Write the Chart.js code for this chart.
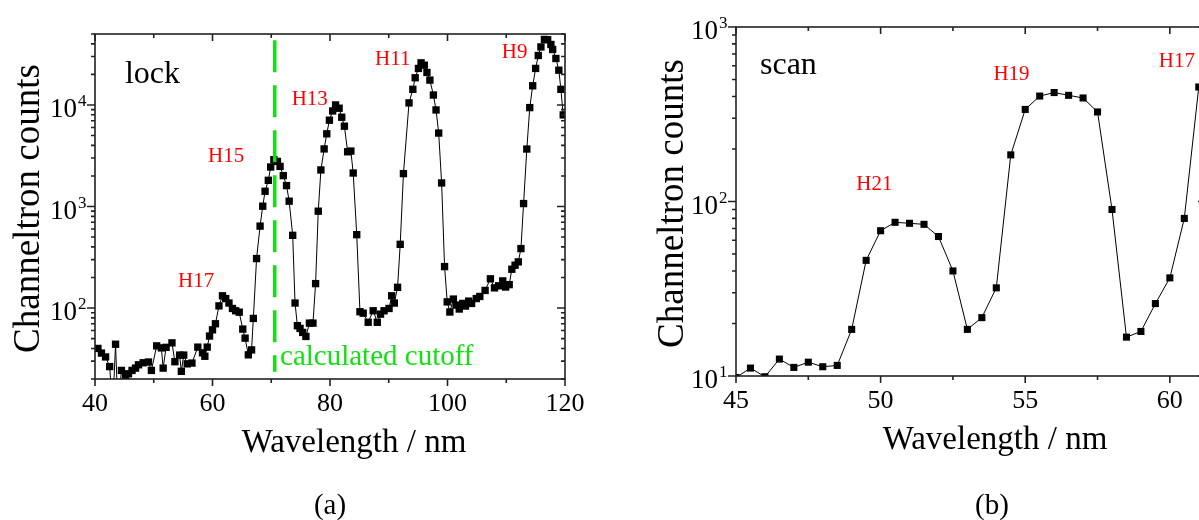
<!DOCTYPE html>
<html>
<head>
<meta charset="utf-8">
<script src="https://cdn.jsdelivr.net/npm/chart.js@4/dist/chart.umd.min.js"></script>
<style>
  html, body { margin: 0; padding: 0; background: #fff; }
  body { width: 1199px; height: 520px; overflow: hidden; position: relative; }
  canvas { position: absolute; top: 0; }
  #lockChart { left: 0; }
  #scanChart { left: 620px; }
</style>
</head>
<body>
<canvas id="lockChart" width="610" height="520"></canvas>
<canvas id="scanChart" width="640" height="520"></canvas>
<script>
// (a) lock
const lockWavelength = [40.5, 41.1, 41.8, 42.5, 43.0, 43.5, 43.9, 44.5, 45.2, 45.7,
    46.3, 46.9, 47.4, 48.2, 49.1, 49.6, 50.5, 51.3, 51.6, 52.1,
    53.1, 53.6, 54.4, 54.7, 55.1, 55.7, 56.5, 57.5, 58.3, 58.7,
    59.1, 59.5, 60.0, 60.5, 61.1, 61.7, 62.25, 62.8, 63.4, 63.95,
    64.55, 65.15, 65.55, 66.1, 66.65, 66.95, 67.5, 68.1, 68.55, 68.95,
    69.5, 69.9, 70.45, 71.05, 71.5, 72.05, 72.6, 73.05, 73.65, 74.05,
    74.45, 74.9, 75.35, 75.9, 76.5, 77.1, 77.55, 78.0, 78.45, 79.0,
    79.45, 79.9, 80.45, 80.95, 81.55, 82.0, 82.45, 83.0, 83.55, 83.95,
    84.55, 85.1, 85.65, 86.5, 87.35, 88.05, 88.6, 89.2, 90.05, 90.5,
    90.95, 91.5, 91.95, 92.5, 93.45, 94.1, 94.5, 95.05, 95.5, 96.05,
    96.5, 97.0, 97.6, 98.05, 98.5, 99.0, 99.5, 99.95, 100.4, 101.0,
    101.45, 102.0, 102.6, 103.05, 103.6, 104.1, 104.9, 105.5, 106.4, 107.3,
    108.0, 108.7, 109.4, 109.9, 110.5, 110.95, 111.5, 112.05, 112.5, 112.95,
    113.5, 114.0, 114.5, 115.0, 115.45, 115.9, 116.5, 117.05, 117.6, 117.9,
    118.45, 118.95, 119.3, 119.7];
const lockCounts = [40, 36, 33, 26.5, 10, 44, 10, 24.3, 21.7, 22.5,
    24.3, 25.6, 27.6, 28.9, 29.4, 24.3, 42.4, 40.5, 25.6, 41,
    45.4, 29.6, 34.4, 23.8, 34.4, 28.2, 28.7, 41.2, 36.2, 33.5,
    41.2, 53, 61, 70, 105, 132, 124, 112, 99, 94,
    91, 62, 50.5, 34.6, 38.7, 79, 307, 641, 1007, 1413,
    1811, 2449, 2890, 2780, 2483, 2014, 1607, 1128, 520, 112,
    67, 63, 57.5, 52.5, 71, 71, 174, 899, 2291, 3690,
    5200, 7080, 8730, 10000, 9290, 7570, 6180, 3460, 3516, 2137,
    528, 92, 89, 72.4, 94, 72.4, 87, 94, 99, 132,
    112, 160, 424, 2108, 10480, 14260, 18530, 22900, 26000, 24660,
    20900, 17580, 12530, 8930, 5290, 1706, 256, 115, 91.4, 122.5,
    107, 97.8, 111, 104.6, 117, 111, 124, 130, 149, 194,
    158, 165.5, 185, 161, 170, 241, 264, 285, 385, 1069,
    3680, 9420, 15450, 22900, 30700, 37300, 44200, 43900, 39400, 35200,
    28700, 22000, 14250, 7980];
const cutoffWavelength = 70.6;
const cutoffCounts = [43400, 23.6];

// (b) scan
const scanWavelength = [45.0, 45.5, 46.0, 46.5, 47.0, 47.5, 48.0, 48.5, 49.0, 49.5,
    50.0, 50.5, 51.0, 51.5, 52.0, 52.5, 53.0, 53.5, 54.0, 54.5,
    55.0, 55.5, 56.0, 56.5, 57.0, 57.5, 58.0, 58.5, 59.0, 59.5,
    60.0, 60.5, 61.0];
const scanCounts = [9.8, 11.1, 9.9, 12.5, 11.2, 12.0, 11.3, 11.5, 18.5, 46,
    68, 76, 75, 74, 63, 40, 18.5, 21.6, 32, 185,
    337, 402, 421, 406, 392, 326, 90, 16.7, 18, 26,
    36.5, 80, 453];

// labels: text, anchor (wavelength, counts) = left/baseline
const lockNotes = [
    { text: 'lock', x: 45.1, y: 16440, color: '#000', size: 32 },
    { text: 'H17', x: 54.13, y: 160, color: '#ff0000', size: 21 },
    { text: 'H15', x: 59.23, y: 2760, color: '#ff0000', size: 21 },
    { text: 'H13', x: 73.48, y: 10000, color: '#ff0000', size: 21 },
    { text: 'H11', x: 87.66, y: 24660, color: '#ff0000', size: 21 },
    { text: 'H9', x: 109.23, y: 28900, color: '#ff0000', size: 21 },
    { text: 'calculated cutoff', x: 71.49, y: 27.6, color: '#11e011', size: 29 }
];
const scanNotes = [
    { text: 'scan', x: 45.83, y: 538, color: '#000', size: 32 },
    { text: 'H21', x: 49.16, y: 116, color: '#ff0000', size: 21 },
    { text: 'H19', x: 53.9, y: 497, color: '#ff0000', size: 21 },
    { text: 'H17', x: 59.62, y: 592, color: '#ff0000', size: 21 }
];

Chart.defaults.font.family = '"Liberation Serif", "Times New Roman", serif';
Chart.defaults.color = '#000';

const serif = '"Liberation Serif", "Times New Roman", serif';

function framePlugin(cfg) {
    return {
        id: 'frame',
        afterDraw(chart) {
            const { ctx, chartArea: a, scales: { x, y } } = chart;
            ctx.save();
            ctx.strokeStyle = '#222';
            ctx.lineWidth = 1.6;
            ctx.strokeRect(a.left, a.top, a.right - a.left, a.bottom - a.top);

            ctx.beginPath();
            for (let v = x.min; v <= x.max + 1e-9; v += cfg.xMinor) {
                const px = x.getPixelForValue(v);
                const k = (v - x.min) / cfg.xMajor;
                const len = Math.abs(k - Math.round(k)) < 1e-6 ? 7 : 4;
                ctx.moveTo(px, a.bottom); ctx.lineTo(px, a.bottom + len);
                ctx.moveTo(px, a.top); ctx.lineTo(px, a.top + len);
            }
            const e0 = Math.floor(Math.log10(y.min)), e1 = Math.ceil(Math.log10(y.max));
            for (let e = e0; e <= e1; e++) {
                for (let m = 1; m < 10; m++) {
                    const v = m * Math.pow(10, e);
                    if (v < y.min * 0.999 || v > y.max * 1.001) continue;
                    const py = y.getPixelForValue(v);
                    const len = m === 1 ? 8 : 4;
                    ctx.moveTo(a.left - len, py); ctx.lineTo(a.left, py);
                    ctx.moveTo(a.right - len, py); ctx.lineTo(a.right, py);
                }
            }
            ctx.stroke();

            // decade labels 10^n
            ctx.fillStyle = '#000';
            ctx.textBaseline = 'alphabetic';
            for (let e = e0; e <= e1; e++) {
                const v = Math.pow(10, e);
                if (v < y.min * 0.999 || v > y.max * 1.001) continue;
                const py = y.getPixelForValue(v);
                ctx.font = '27px ' + serif;
                ctx.textAlign = 'right';
                ctx.fillText('10', a.left - 18, py + 12);
                ctx.font = '17px ' + serif;
                ctx.textAlign = 'left';
                ctx.fillText(String(e), a.left - 17, py + 1);
            }

            // annotations
            ctx.textAlign = 'left';
            cfg.notes.forEach(n => {
                ctx.font = n.size + 'px ' + serif;
                ctx.fillStyle = n.color;
                ctx.fillText(n.text, x.getPixelForValue(n.x), y.getPixelForValue(n.y));
            });

            // axis titles and caption
            ctx.fillStyle = '#000';
            ctx.textAlign = 'center';
            ctx.font = '33px ' + serif;
            ctx.fillText('Wavelength / nm', (a.left + a.right) / 2 + cfg.xTitleShift, a.bottom + 73);
            ctx.font = '29px ' + serif;
            ctx.fillText(cfg.caption, cfg.captionX, 514);
            ctx.save();
            ctx.translate(cfg.yTitleX, (a.top + a.bottom) / 2 + 2);
            ctx.rotate(-Math.PI / 2);
            ctx.font = '37px ' + serif;
            ctx.fillText('Channeltron counts', 0, 0);
            ctx.restore();

            ctx.restore();
        }
    };
}

function toPoints(xs, ys) {
    return xs.map((v, i) => ({ x: v, y: ys[i] }));
}

new Chart(document.getElementById('lockChart'), {
    type: 'line',
    data: {
        datasets: [{
            data: [{ x: cutoffWavelength, y: cutoffCounts[0] }, { x: cutoffWavelength, y: cutoffCounts[1] }],
            borderColor: '#11e011',
            borderWidth: 3.5,
            borderDash: [32, 13],
            pointRadius: 0,
            order: 0
        }, {
            data: toPoints(lockWavelength, lockCounts),
            borderColor: '#000',
            borderWidth: 1,
            pointStyle: 'rect',
            pointRadius: 5.2,
            pointBackgroundColor: '#000',
            pointBorderWidth: 0,
            order: 1
        }]
    },
    options: {
        responsive: false,
        animation: false,
        events: [],
        layout: { padding: { left: 0, top: 34, right: 45, bottom: 0 } },
        plugins: { legend: { display: false }, tooltip: { enabled: false } },
        scales: {
            x: {
                type: 'linear', min: 40, max: 120,
                grid: { display: false, drawTicks: false },
                border: { display: false },
                ticks: { stepSize: 20, padding: 10, font: { size: 26 } },
                afterFit(s) { s.height = 141; }
            },
            y: {
                type: 'logarithmic', min: 20, max: 50000,
                grid: { display: false, drawTicks: false },
                border: { display: false },
                ticks: { display: false },
                afterFit(s) { s.width = 95; }
            }
        }
    },
    plugins: [framePlugin({ xMinor: 10, xMajor: 20, notes: lockNotes, xTitleShift: 24,
        caption: '(a)', captionX: 330, yTitleX: 39 })]
});

new Chart(document.getElementById('scanChart'), {
    type: 'line',
    data: {
        datasets: [{
            data: toPoints(scanWavelength, scanCounts),
            borderColor: '#000',
            borderWidth: 1,
            pointStyle: 'rect',
            pointRadius: 5,
            pointBackgroundColor: '#000',
            pointBorderWidth: 0
        }]
    },
    options: {
        responsive: false,
        animation: false,
        events: [],
        layout: { padding: { left: 0, top: 27, right: 54, bottom: 0 } },
        plugins: { legend: { display: false }, tooltip: { enabled: false } },
        scales: {
            x: {
                type: 'linear', min: 45, max: 61.25,
                grid: { display: false, drawTicks: false },
                border: { display: false },
                ticks: { stepSize: 5, includeBounds: false, padding: 10, font: { size: 26 } },
                afterFit(s) { s.height = 144; }
            },
            y: {
                type: 'logarithmic', min: 10, max: 1000,
                grid: { display: false, drawTicks: false },
                border: { display: false },
                ticks: { display: false },
                afterFit(s) { s.width = 116; }
            }
        }
    },
    plugins: [framePlugin({ xMinor: 2.5, xMajor: 5, notes: scanNotes, xTitleShift: 24,
        caption: '(b)', captionX: 372, yTitleX: 63 })]
});
</script>
</body>
</html>
